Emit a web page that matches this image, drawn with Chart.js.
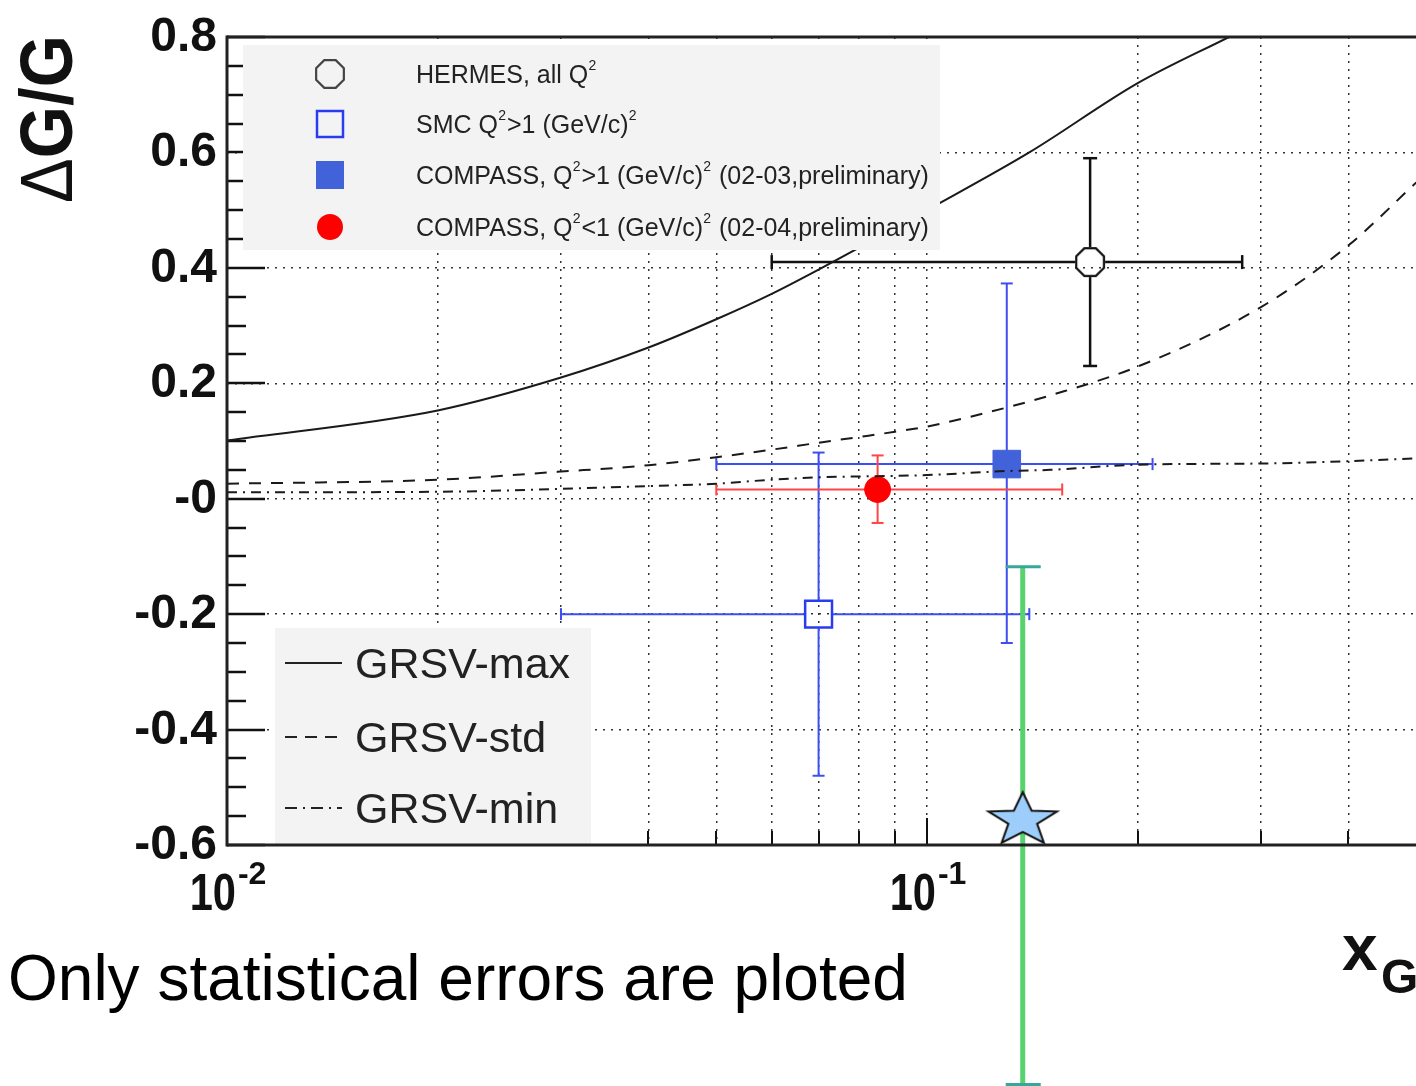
<!DOCTYPE html>
<html><head><meta charset="utf-8">
<script src="https://cdn.jsdelivr.net/npm/chart.js@4.4.0/dist/chart.umd.min.js"></script>
<style>html,body{margin:0;padding:0;background:#fff;overflow:hidden}#wrap{position:relative;width:1416px;height:1086px}canvas{display:block}</style>
</head><body><div id="wrap"><canvas id="c" width="1416" height="1086"></canvas></div>
<script>
// ---------------- data ----------------
const xGridTicks = [0.02,0.03,0.04,0.05,0.06,0.07,0.08,0.09,0.1,0.2,0.3,0.4];
const yGridTicks = [-0.4,-0.2,0,0.2,0.4,0.6];
const yTickValues = [-0.6,-0.4,-0.2,0,0.2,0.4,0.6,0.8];
const yTickLabels = ['-0.6','-0.4','-0.2','-0','0.2','0.4','0.6','0.8'];
const xTickValues = [0.01,0.1];
const xTickBase = ['10','10'];
const xTickExp = ['-2','-1'];
const xMinorTicks = [0.02,0.03,0.04,0.05,0.06,0.07,0.08,0.09,0.2,0.3,0.4];

const grsvMaxX = [0.01,0.02,0.03,0.04,0.05,0.06,0.07,0.08,0.1,0.14,0.2,0.27];
const grsvMaxY = [0.101,0.153,0.210,0.262,0.311,0.355,0.397,0.435,0.50,0.60,0.72,0.80];
const grsvStdX = [0.01,0.02,0.03,0.04,0.05,0.06,0.07,0.08,0.09,0.1,0.13,0.15,0.2,0.3,0.4,0.5];
const grsvStdY = [0.026,0.033,0.047,0.058,0.072,0.085,0.097,0.107,0.116,0.125,0.158,0.179,0.229,0.332,0.439,0.548];
const grsvMinX = [0.01,0.02,0.03,0.04,0.05,0.06,0.07,0.1,0.13,0.15,0.2,0.3,0.4,0.5];
const grsvMinY = [0.011,0.012,0.017,0.022,0.026,0.033,0.037,0.041,0.048,0.050,0.059,0.061,0.065,0.070];

const hermesX = [0.171], hermesY = [0.41], hermesYLow = [0.23], hermesYHigh = [0.59], hermesXLow = [0.060], hermesXHigh = [0.282];
const smcX = [0.070], smcY = [-0.20], smcYLow = [-0.48], smcYHigh = [0.08], smcXLow = [0.030], smcXHigh = [0.140];
const compassHiX = [0.130], compassHiY = [0.06], compassHiYLow = [-0.25], compassHiYHigh = [0.373], compassHiXLow = [0.050], compassHiXHigh = [0.210];
const compassLoX = [0.085], compassLoY = [0.016], compassLoYLow = [-0.042], compassLoYHigh = [0.075], compassLoXLow = [0.050], compassLoXHigh = [0.156];
const newX = [0.137], newY = [-0.557], newYLow = [-1.015], newYHigh = [-0.118];

const pointLegend = [
  [['HERMES, all Q',0],['2',1]],
  [['SMC Q',0],['2',1],['>1 (GeV/c)',0],['2',1]],
  [['COMPASS, Q',0],['2',1],['>1 (GeV/c)',0],['2',1],[' (02-03,preliminary)',0]],
  [['COMPASS, Q',0],['2',1],['<1 (GeV/c)',0],['2',1],[' (02-04,preliminary)',0]]
];
const curveLegend = ['GRSV-max','GRSV-std','GRSV-min'];
const yTitle = ['Δ','G/G'];
const xTitle = ['x','G'];
const note = 'Only statistical errors are ploted';

// ---------------- helpers ----------------
const FONT = '"Liberation Sans", Arial, Helvetica, sans-serif';
function zip(xs, ys){ return xs.map((x,i)=>({x:x, y:ys[i]})); }
function makeStar(){
  const c=document.createElement('canvas'); c.width=80; c.height=64;
  const g=c.getContext('2d'); const cx=40, cy=32, Rx=36, Ry=28, r=0.42;
  g.beginPath();
  for(let i=0;i<10;i++){ const a=-Math.PI/2+i*Math.PI/5; const rr=(i%2)?r:1; g.lineTo(cx+Math.cos(a)*Rx*rr, cy+Math.sin(a)*Ry*rr); }
  g.closePath(); g.fillStyle='#9dcdfb'; g.fill(); g.lineWidth=2; g.strokeStyle='#111'; g.stroke();
  return c;
}
function octPath(g,cx,cy,R){
  g.beginPath();
  for(let i=0;i<8;i++){ const a=Math.PI/8+i*Math.PI/4; g.lineTo(cx+Math.cos(a)*R, cy+Math.sin(a)*R); }
  g.closePath();
}
function makeOct(color){
  const c=document.createElement('canvas'); c.width=36; c.height=36;
  const g=c.getContext('2d'); octPath(g,18,18,15); g.lineWidth=2.2; g.strokeStyle=color; g.stroke();
  return c;
}

const errorBars = [
  {x:hermesX, y:hermesY, yl:hermesYLow, yh:hermesYHigh, xl:hermesXLow, xh:hermesXHigh, color:'#111', lw:2.5, gap:15, cap:7},
  {x:smcX, y:smcY, yl:smcYLow, yh:smcYHigh, xl:smcXLow, xh:smcXHigh, color:'#3d4ff0', lw:2, gap:14, cap:6},
  {x:compassHiX, y:compassHiY, yl:compassHiYLow, yh:compassHiYHigh, xl:compassHiXLow, xh:compassHiXHigh, color:'#3d4ff0', lw:2, gap:0, cap:6},
  {x:compassLoX, y:compassLoY, yl:compassLoYLow, yh:compassLoYHigh, xl:compassLoXLow, xh:compassLoXHigh, color:'#ff4545', lw:2, gap:0, cap:6}
];

function line(ctx,x1,y1,x2,y2){ ctx.beginPath(); ctx.moveTo(x1,y1); ctx.lineTo(x2,y2); ctx.stroke(); }

const drawPlugin = {
  id:'drawPlugin',
  beforeDatasetsDraw(chart){
    const ctx=chart.ctx, xs=chart.scales.x, ys=chart.scales.y, a=chart.chartArea;
    ctx.save();
    // tick marks
    ctx.strokeStyle='#111'; ctx.lineWidth=2.5;
    yTickValues.forEach(v=>{ const p=Math.round(ys.getPixelForValue(v)); line(ctx,a.left,p,a.left+38,p); });
    for(let i=0;i<yTickValues.length-1;i++){
      for(let k=1;k<4;k++){ const v=yTickValues[i]+(yTickValues[i+1]-yTickValues[i])*k/4; const p=Math.round(ys.getPixelForValue(v)); line(ctx,a.left,p,a.left+19,p); }
    }
    ctx.lineWidth=2;
    xTickValues.forEach(v=>{ const p=Math.round(xs.getPixelForValue(v)); line(ctx,p,a.bottom,p,a.bottom-27); });
    xMinorTicks.forEach(v=>{ const p=Math.round(xs.getPixelForValue(v)); line(ctx,p,a.bottom,p,a.bottom-14); });
    // error bars
    errorBars.forEach(e=>{
      ctx.strokeStyle=e.color; ctx.lineWidth=e.lw;
      for(let i=0;i<e.x.length;i++){
        const cx=xs.getPixelForValue(e.x[i]), cy=ys.getPixelForValue(e.y[i]);
        const xl=xs.getPixelForValue(e.xl[i]), xh=xs.getPixelForValue(e.xh[i]);
        const yl=ys.getPixelForValue(e.yl[i]), yh=ys.getPixelForValue(e.yh[i]);
        line(ctx,xl,cy,cx-e.gap,cy); line(ctx,cx+e.gap,cy,xh,cy);
        line(ctx,cx,yh,cx,cy-e.gap); line(ctx,cx,cy+e.gap,cx,yl);
        line(ctx,xl,cy-e.cap,xl,cy+e.cap); line(ctx,xh,cy-e.cap,xh,cy+e.cap);
        line(ctx,cx-e.cap,yh,cx+e.cap,yh); line(ctx,cx-e.cap,yl,cx+e.cap,yl);
      }
    });
    // new measurement (green bar, not clipped)
    for(let i=0;i<newX.length;i++){
      const cx=xs.getPixelForValue(newX[i]);
      const yl=ys.getPixelForValue(newYLow[i]), yh=ys.getPixelForValue(newYHigh[i]);
      ctx.strokeStyle='#58d26c'; ctx.lineWidth=5; line(ctx,cx,yh,cx,yl);
      ctx.strokeStyle='#35a89a'; ctx.lineWidth=3; line(ctx,cx-17,yh,cx+18,yh); line(ctx,cx-17,yl,cx+18,yl);
    }
    ctx.restore();
  },
  afterDatasetsDraw(chart){
    const ctx=chart.ctx, xs=chart.scales.x, ys=chart.scales.y, a=chart.chartArea;
    ctx.save();
    // ---- top legend ----
    ctx.fillStyle='#f3f3f3'; ctx.fillRect(243,45,697,205);
    const rows=[74,124,175,227], mx=330;
    octPath(ctx,mx,rows[0],15); ctx.lineWidth=2.2; ctx.strokeStyle='#444'; ctx.stroke();
    ctx.lineWidth=2.5; ctx.strokeStyle='#2a3cf0'; ctx.strokeRect(mx-13,rows[1]-13,26,26);
    ctx.fillStyle='#4262d9'; ctx.fillRect(mx-14,rows[2]-14,28,28);
    ctx.fillStyle='#ff0000'; ctx.beginPath(); ctx.arc(mx,rows[3],13,0,Math.PI*2); ctx.fill();
    ctx.fillStyle='#222'; ctx.textBaseline='alphabetic'; ctx.textAlign='left';
    pointLegend.forEach((segs,r)=>{
      let x=416; const base=rows[r]+9;
      segs.forEach(([t,sup])=>{
        ctx.font=sup? '14px '+FONT : '25px '+FONT;
        ctx.fillText(t,x,sup? base-13 : base);
        x+=ctx.measureText(t).width + (sup?1:0.2);
      });
    });
    // ---- bottom legend ----
    ctx.fillStyle='#f3f3f3'; ctx.fillRect(275,628,316,216);
    const lrows=[663,737,808], dashes=[[],[12,8],[12,6,2,6]];
    ctx.strokeStyle='#222'; ctx.lineWidth=2;
    lrows.forEach((y,i)=>{ ctx.setLineDash(dashes[i]); line(ctx,285,y,342,y); });
    ctx.setLineDash([]);
    ctx.fillStyle='#222'; ctx.font='43px '+FONT;
    curveLegend.forEach((t,i)=>{ ctx.fillText(t,355,lrows[i]+15); });
    // ---- frame ----
    ctx.strokeStyle='#222'; ctx.lineWidth=3;
    line(ctx,a.left,a.top,a.right+2,a.top);
    line(ctx,a.left,a.bottom,a.right+2,a.bottom);
    line(ctx,a.left,a.top-1.5,a.left,a.bottom+1.5);
    // ---- y tick labels ----
    ctx.fillStyle='#111'; ctx.font='bold 48px '+FONT; ctx.textAlign='right';
    yTickValues.forEach((v,i)=>{ const p=ys.getPixelForValue(v); ctx.fillText(yTickLabels[i],217,p+14); });
    // ---- x tick labels ----
    xTickValues.forEach((v,i)=>{
      const p=xs.getPixelForValue(v);
      ctx.font='bold 52px '+FONT; const wb=ctx.measureText(xTickBase[i]).width*0.8;
      ctx.font='bold 32px '+FONT; const we=ctx.measureText(xTickExp[i]).width;
      const x0=p-(wb+2+we)/2+1;
      ctx.save(); ctx.translate(x0,910); ctx.scale(0.8,1); ctx.font='bold 52px '+FONT; ctx.textAlign='left'; ctx.fillText(xTickBase[i],0,0); ctx.restore();
      ctx.font='bold 32px '+FONT; ctx.textAlign='left'; ctx.fillText(xTickExp[i],x0+wb+2,884);
    });
    // ---- axis titles ----
    ctx.save(); ctx.translate(72,203); ctx.rotate(-Math.PI/2);
    ctx.font='74px '+FONT; const w1=ctx.measureText(yTitle[0]).width;
    ctx.font='bold 74px '+FONT; const w2=ctx.measureText(yTitle[1]).width;
    const sc=168/(w1+w2); ctx.scale(sc,1); ctx.textAlign='left';
    ctx.font='74px '+FONT; ctx.fillText(yTitle[0],0,0);
    ctx.font='bold 74px '+FONT; ctx.fillText(yTitle[1],w1,0);
    ctx.restore();
    ctx.textAlign='left';
    ctx.font='bold 64px '+FONT; ctx.fillText(xTitle[0],1342,970);
    ctx.font='bold 48px '+FONT; ctx.fillText(xTitle[1],1381,993);
    // ---- note ----
    ctx.font='64px '+FONT; ctx.fillStyle='#000'; ctx.fillText(note,8,1000);
    ctx.restore();
  }
};

const starImg = makeStar();
const octImg = makeOct('#111');

new Chart(document.getElementById('c'), {
  type:'scatter',
  data:{ datasets:[
    {type:'line', label:'GRSV-max', data:zip(grsvMaxX,grsvMaxY), borderColor:'#1a1a1a', borderWidth:2, pointRadius:0, cubicInterpolationMode:'monotone', fill:false},
    {type:'line', label:'GRSV-std', data:zip(grsvStdX,grsvStdY), borderColor:'#1a1a1a', borderWidth:2, borderDash:[12,10], pointRadius:0, cubicInterpolationMode:'monotone', fill:false},
    {type:'line', label:'GRSV-min', data:zip(grsvMinX,grsvMinY), borderColor:'#1a1a1a', borderWidth:2, borderDash:[10,6,2,6], pointRadius:0, cubicInterpolationMode:'monotone', fill:false},
    {label:'HERMES', data:zip(hermesX,hermesY), pointStyle:octImg, pointRadius:15},
    {label:'SMC', data:zip(smcX,smcY), pointStyle:'rect', pointRadius:19, borderColor:'#2a3cf0', borderWidth:2.5, backgroundColor:'rgba(0,0,0,0)'},
    {label:'COMPASS Q2>1', data:zip(compassHiX,compassHiY), pointStyle:'rect', pointRadius:19.5, borderColor:'#4262d9', borderWidth:1, backgroundColor:'#4262d9'},
    {label:'COMPASS Q2<1', data:zip(compassLoX,compassLoY), pointStyle:'circle', pointRadius:13, borderColor:'#ff0000', borderWidth:1, backgroundColor:'#ff0000'},
    {label:'new', data:zip(newX,newY), pointStyle:starImg, pointRadius:20, clip:false}
  ]},
  options:{
    responsive:false, animation:false, devicePixelRatio:1, events:[],
    layout:{autoPadding:false, padding:{left:227, top:37, right:0, bottom:241}},
    plugins:{legend:{display:false}, tooltip:{enabled:false}},
    scales:{
      x:{type:'logarithmic', min:0.01, max:0.4995,
         afterBuildTicks:(s)=>{ s.ticks = xGridTicks.map(v=>({value:v})); },
         ticks:{display:false}, grid:{color:'#333', lineWidth:1.5, drawTicks:false}, border:{display:false, dash:[2,6]}},
      y:{type:'linear', min:-0.6, max:0.8,
         afterBuildTicks:(s)=>{ s.ticks = yGridTicks.map(v=>({value:v})); },
         ticks:{display:false}, grid:{color:'#333', lineWidth:1.5, drawTicks:false}, border:{display:false, dash:[2,6]}}
    }
  },
  plugins:[drawPlugin]
});
</script></body></html>
